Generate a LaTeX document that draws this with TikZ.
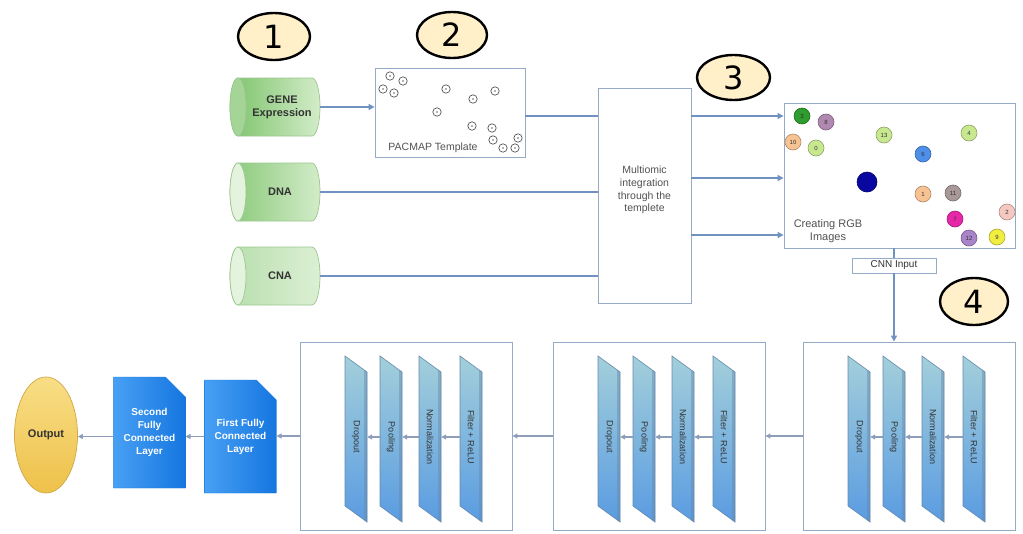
\documentclass[tikz,border=0pt]{standalone}
\usepackage{fontspec}
\setmainfont{Liberation Sans}
\newfontfamily\numfont{DejaVu Sans}
\usetikzlibrary{arrows.meta,shadows,shapes.geometric,shapes.misc}

\definecolor{conn}{HTML}{6F92C0}
\definecolor{frame}{HTML}{95AAC6}
\definecolor{numfill}{HTML}{FFF0C9}
\definecolor{gborder}{HTML}{9CC890}
\definecolor{txt}{HTML}{333333}
\definecolor{slabtop}{HTML}{A3CFDA}
\definecolor{slabbot}{HTML}{5A9CE2}
\definecolor{slabedge}{HTML}{6688AA}
\definecolor{fcl}{HTML}{48A0F4}
\definecolor{fcr}{HTML}{1576E0}
\definecolor{inarrow}{HTML}{8E9DB8}
\definecolor{gdark}{HTML}{7DC36B}
\definecolor{glight}{HTML}{D3ECC9}
\definecolor{gend}{HTML}{E3F3DD}
\definecolor{cdg}{HTML}{2E9C2E}
\definecolor{cmauve}{HTML}{B088B0}
\definecolor{cpeach}{HTML}{F7C393}
\definecolor{clg}{HTML}{C8E890}
\definecolor{cblue}{HTML}{4E8FEA}
\definecolor{cnavy}{HTML}{0808A0}
\definecolor{cgray}{HTML}{A89898}
\definecolor{cpink}{HTML}{F5C8C0}
\definecolor{cmag}{HTML}{E628A8}
\definecolor{cpurple}{HTML}{A884C8}
\definecolor{cyellow}{HTML}{F0EE40}
\definecolor{outtop}{HTML}{F8DE86}
\definecolor{outbot}{HTML}{EEC14A}
\definecolor{outb}{HTML}{CFA848}

\tikzset{
  numcirc/.style={ellipse, draw=black, line width=2.4pt, fill=numfill, inner sep=0pt,
    font=\numfont\fontsize{32}{32}\selectfont},
  framebox/.style={draw=frame, line width=0.9pt, fill=white,
    drop shadow={shadow xshift=1.2pt, shadow yshift=-1.2pt, opacity=0.35, fill=gray}},
  conline/.style={draw=conn, line width=1.2pt},
  conarrow/.style={conline, -{Triangle[length=6pt,width=6pt]}},
  lowarrow/.style={draw=inarrow, line width=1.1pt, -{Triangle[length=5pt,width=5pt]}},
  omictext/.style={font=\bfseries\fontsize{11}{13}\selectfont, text=txt, align=center, inner sep=0pt},
  plaintext/.style={font=\fontsize{10.5}{12.7}\selectfont, text=txt!85, align=center, inner sep=0pt},
  slabbox/.style={minimum width=22pt, minimum height=150pt, inner sep=0pt},
  slabtxt/.style={font=\fontsize{9}{9}\selectfont, text=txt, inner sep=0pt},
  fcbox/.style={chamfered rectangle, chamfered rectangle corners=north east,
    chamfered rectangle sep=10pt, left color=fcl, right color=fcr, draw=fcr, line width=0.4pt,
    text=white, font=\bfseries\fontsize{10}{13}\selectfont, align=center, inner sep=0pt},
  rcirc/.style={circle, minimum size=16pt, inner sep=0pt, line width=0.6pt,
    font=\fontsize{6}{6}\selectfont, text=txt},
}

\newcommand\omic[6]{%
  \path[left color=#4, right color=#5, draw=gborder, line width=0.7pt]
    (#2-37,#3+29) -- (#2+37,#3+29) arc[start angle=90, end angle=-90, x radius=8, y radius=29]
    -- (#2-37,#3-29) arc[start angle=270, end angle=90, x radius=8, y radius=29] -- cycle;
  \path[fill=#6, draw=gborder, line width=0.7pt] (#2-37,#3) ellipse[x radius=8, y radius=29];
  \node[minimum width=90pt, minimum height=58pt, inner sep=0pt] (#1) at (#2,#3) {};
}

\newcommand\mkslab[3]{%
  \path[top color=slabtop, bottom color=slabbot, draw=slabedge, line width=0.6pt]
    (#2,-356) -- (#2+22,-372) -- (#2+22,-522) -- (#2,-506) -- cycle;
  \fill[slabedge, opacity=0.45] (#2+19,-369.8) -- (#2+22,-372) -- (#2+22,-522) -- (#2+19,-519.8) -- cycle;
  \node[slabbox] (#1) at (#2+11,-437) {};
  \node[slabtxt, rotate=-90] (#1t) at (#1) {#3};
}

\newcommand\mkblock[2]{%
  \node[framebox, minimum width=212pt, minimum height=188pt, inner sep=0pt] (#1) at (#2+106,-436) {};
  \mkslab{#1d}{#2+45}{Dropout}
  \mkslab{#1p}{#2+80}{Pooling}
  \mkslab{#1n}{#2+119}{Normalization}
  \mkslab{#1f}{#2+160}{Filter + ReLU}
  \draw[lowarrow] (#1f) -- (#1n);
  \draw[lowarrow] (#1n) -- (#1p);
  \draw[lowarrow] (#1p) -- (#1d);
}

\begin{document}
\begin{tikzpicture}[x=1pt, y=1pt]
\useasboundingbox (0,0) rectangle (1023,-533);
\fill[white] (0,0) rectangle (1023,-533);

% numbered markers
\node[numcirc, minimum width=72pt, minimum height=47pt] (n1) at (274,-36.5) {1};
\node[numcirc, minimum width=70pt, minimum height=46pt] (n2) at (452,-35) {2};
\node[numcirc, minimum width=73pt, minimum height=45pt] (n3) at (733.5,-77.5) {3};
\node[numcirc, minimum width=68pt, minimum height=47pt] (n4) at (974,-301.5) {4};

% omics cylinders
\omic{gene}{275}{-107}{gdark}{glight}{gdark!70!white}
\omic{dna}{275}{-192}{gdark!90!white}{glight}{gend}
\omic{cna}{275}{-276}{gdark!55!white}{glight!80!white}{gend}
\node[omictext] (genet) at (282,-107) {GENE\\Expression};
\node[omictext] (dnat) at (280,-192) {DNA};
\node[omictext] (cnat) at (280,-276) {CNA};

% PACMAP template
\node[framebox, minimum width=150pt, minimum height=89pt, inner sep=0pt] (pac) at (450,-112.5) {};
\foreach \px/\py in {390/76, 403/81, 383/89, 394/93, 446/89, 473/99, 495/91, 437/112,
    472/126, 492/128, 493/140, 503/148, 515/148, 518/138} {
  \draw[line width=0.6pt, black!75] (\px,-\py) circle[radius=4.2];
  \fill[black!60] (\px,-\py) circle[radius=0.8];
}
\node[plaintext] (pact) at (433,-148) {PACMAP Template};

% multiomic integration
\node[framebox, minimum width=93pt, minimum height=215pt, inner sep=0pt] (multi) at (644.5,-195.5) {};
\node[plaintext] (multit) at (644.5,-190) {Multiomic\\integration\\through the\\templete};

% RGB images
\node[framebox, minimum width=231pt, minimum height=145pt, inner sep=0pt] (rgb) at (899.5,-175.5) {};
\foreach \px/\py/\c/\t in {802/116/cdg/3, 826/122/cmauve/8, 793/142/cpeach/10, 816/148/clg/0,
    884/135/clg/13, 969/133/clg/4, 923/154/cblue/6, 923/194/cpeach/1, 953/193/cgray/11,
    1007/212/cpink/2, 955/219/cmag/7, 969/238/cpurple/12, 997/237/cyellow/9} {
  \node[rcirc, fill=\c, draw=\c!70!black] (rc\t) at (\px,-\py) {\t};
}
\node[circle, minimum size=20pt, inner sep=0pt, fill=cnavy, draw=cnavy!70!black, line width=0.6pt] (rcx) at (867,-182) {};
\node[plaintext, font=\fontsize{11}{13}\selectfont] (rgbt) at (828,-231) {Creating RGB\\Images};

% CNN input
\node[framebox, minimum width=84pt, minimum height=15pt, inner sep=0pt,
  font=\fontsize{10}{10}\selectfont, text=txt] (cnn) at (894,-265.5) {CNN Input};

% top connectors
\coordinate (r0) at (0,-116);
\coordinate (r1) at (0,-116);
\coordinate (r2) at (0,-178);
\coordinate (r3) at (0,-235);
\draw[conarrow] (gene.east) -- (gene.east -| pac.west);
\draw[conline] (pac.east |- r0) -- (multi.west |- r0);
\draw[conline] (dna.east) -- (dna.east -| multi.west);
\draw[conline] (cna.east) -- (cna.east -| multi.west);
\draw[conarrow] (multi.east |- r1) -- (rgb.west |- r1);
\draw[conarrow] (multi.east |- r2) -- (rgb.west |- r2);
\draw[conarrow] (multi.east |- r3) -- (rgb.west |- r3);
\draw[conline] (cnn.north |- rgb.south) -- (cnn.north);

% CNN blocks
\mkblock{A}{803}
\mkblock{B}{553}
\mkblock{C}{300}
\draw[conarrow] (cnn.south) -- (cnn.south |- A.north);

% fully connected layers and output
\node[fcbox, minimum width=65pt, minimum height=113pt] (fc1) at (240.5,-436.5) {First Fully\\Connected\\Layer};
\node[fcbox, minimum width=65pt, minimum height=111pt] (fc2) at (149.5,-432.5) {Second\\Fully\\Connected\\Layer};
\node[ellipse, minimum width=63pt, minimum height=116pt, inner sep=0pt, top color=outtop,
  bottom color=outbot, draw=outb, line width=0.7pt, font=\bfseries\fontsize{11}{11}\selectfont,
  text=txt] (out) at (46,-435) {Output};

\draw[lowarrow] (A) -- (B);
\draw[lowarrow] (B) -- (C);
\draw[lowarrow] (C.west) -- (C.west -| fc1.east);
\draw[lowarrow] (fc1.west) -- (fc1.west -| fc2.east);
\draw[lowarrow] (fc2.west |- fc1.west) -- (fc1.west -| out.east);
\end{tikzpicture}
\end{document}
